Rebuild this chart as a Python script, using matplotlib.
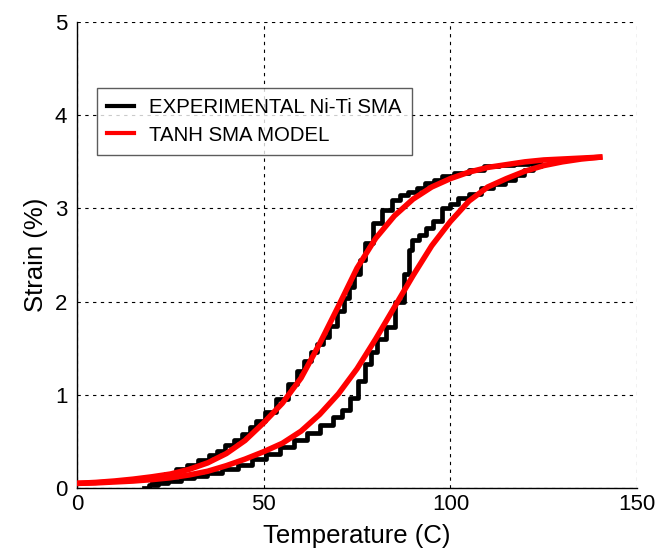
import matplotlib
matplotlib.use("Agg")
import matplotlib.pyplot as plt

plt.rcParams['font.family'] = ['Liberation Sans', 'DejaVu Sans']

# ---- data ----------------------------------------------------------------
# experimental Ni-Ti loop: lower (heating) branch then upper branch back down
exp_temp = [18.0, 20.5, 23.0, 26.0, 29.5, 33.0, 36.5, 41.0, 45.0, 49.0, 52.5,
            56.0, 60.0, 63.3, 67.0, 70.0, 72.0, 74.4, 76.0, 78.0, 79.3, 81.5,
            83.8, 86.5, 88.4, 89.2, 90.5, 92.7, 94.5, 96.4, 99.0, 100.7, 103.4,
            106.5, 110.0, 113.0, 116.0, 118.5, 121.0, 123.5, 125.0,
            123.0, 119.0, 115.0, 111.0, 107.0, 103.0, 99.0, 96.5, 94.6, 92.0,
            90.0, 87.5, 85.7, 83.0, 80.4, 78.0, 76.5, 75.0, 73.5, 72.3, 70.5,
            68.6, 66.5, 65.0, 63.5, 61.6, 60.0, 58.0, 55.0, 51.7, 49.0, 47.0,
            45.5, 43.0, 41.0, 38.5, 36.5, 34.0, 31.0, 28.0, 25.0, 22.0, 20.0]
exp_strain = [0.00, 0.03, 0.05, 0.08, 0.11, 0.13, 0.16, 0.20, 0.25, 0.31, 0.37,
              0.44, 0.52, 0.59, 0.68, 0.76, 0.84, 0.97, 1.15, 1.33, 1.46, 1.60,
              1.73, 2.00, 2.30, 2.55, 2.66, 2.72, 2.79, 2.86, 3.00, 3.05, 3.11,
              3.16, 3.22, 3.26, 3.30, 3.36, 3.41, 3.45, 3.48,
              3.49, 3.48, 3.47, 3.45, 3.41, 3.38, 3.35, 3.30, 3.27, 3.22,
              3.18, 3.14, 3.09, 2.98, 2.84, 2.63, 2.45, 2.30, 2.16, 2.04, 1.90,
              1.74, 1.62, 1.55, 1.46, 1.36, 1.26, 1.12, 0.96, 0.82, 0.72, 0.65,
              0.58, 0.51, 0.46, 0.40, 0.35, 0.30, 0.25, 0.20, 0.15, 0.10, 0.06]

# tanh model, two branches sampled every 5 C
model_temp = [0, 5, 10, 15, 20, 25, 30, 35, 40, 45, 50, 55, 60, 65, 70, 75,
              80, 85, 90, 95, 100, 105, 110, 115, 120, 125, 130, 135, 140]
model_upper = [0.05, 0.06, 0.075, 0.095, 0.12, 0.15, 0.20, 0.27, 0.37, 0.51,
               0.70, 0.91, 1.18, 1.55, 1.95, 2.36, 2.68, 2.92, 3.10, 3.23,
               3.32, 3.39, 3.44, 3.47, 3.50, 3.52, 3.53, 3.54, 3.55]
model_lower = [0.05, 0.055, 0.065, 0.075, 0.09, 0.11, 0.14, 0.18, 0.24, 0.31,
               0.39, 0.48, 0.61, 0.79, 1.01, 1.28, 1.60, 1.94, 2.28, 2.60,
               2.86, 3.08, 3.23, 3.32, 3.40, 3.46, 3.50, 3.53, 3.55]

fig = plt.figure(figsize=(6.66, 5.51), dpi=100)
ax = fig.add_axes([0.1156, 0.1143, 0.841, 0.8457])

ax.plot(exp_temp, exp_strain, color="black", lw=3.4, drawstyle="steps-mid",
        label="EXPERIMENTAL Ni-Ti SMA", zorder=3)
ax.plot(model_temp, model_upper, color="#FF0000", lw=4,
        label="TANH SMA MODEL", zorder=4)
ax.plot(model_temp, model_lower, color="#FF0000", lw=4, zorder=4)

ax.set_xlim(0, 150)
ax.set_ylim(0, 5)
ax.set_xticks([0, 50, 100, 150])
ax.set_yticks([0, 1, 2, 3, 4, 5])
ax.grid(True, color="black", linestyle=(0, (3, 4)), lw=0.8)
ax.spines["top"].set_visible(False)
ax.spines["right"].set_visible(False)
for s in ("left", "bottom"):
    ax.spines[s].set_linewidth(1.0)
ax.tick_params(direction="in", length=0, labelsize=16)
ax.tick_params(axis="x", pad=4)
ax.tick_params(axis="y", pad=7)

ax.set_xlabel("Temperature (C)", fontsize=18.5, labelpad=7)
ax.set_ylabel("Strain (%)", fontsize=18.5, labelpad=5)

leg = ax.legend(loc="upper left", bbox_to_anchor=(0.036, 0.858), fontsize=14.7,
                frameon=True, fancybox=False, edgecolor="#333333",
                handlelength=1.3, handletextpad=0.75, borderpad=0.5,
                labelspacing=0.4, borderaxespad=0)
leg.get_frame().set_linewidth(1.0)
for line in leg.get_lines():
    line.set_linewidth(3)

fig.savefig("out.png", dpi=100, facecolor="white")
